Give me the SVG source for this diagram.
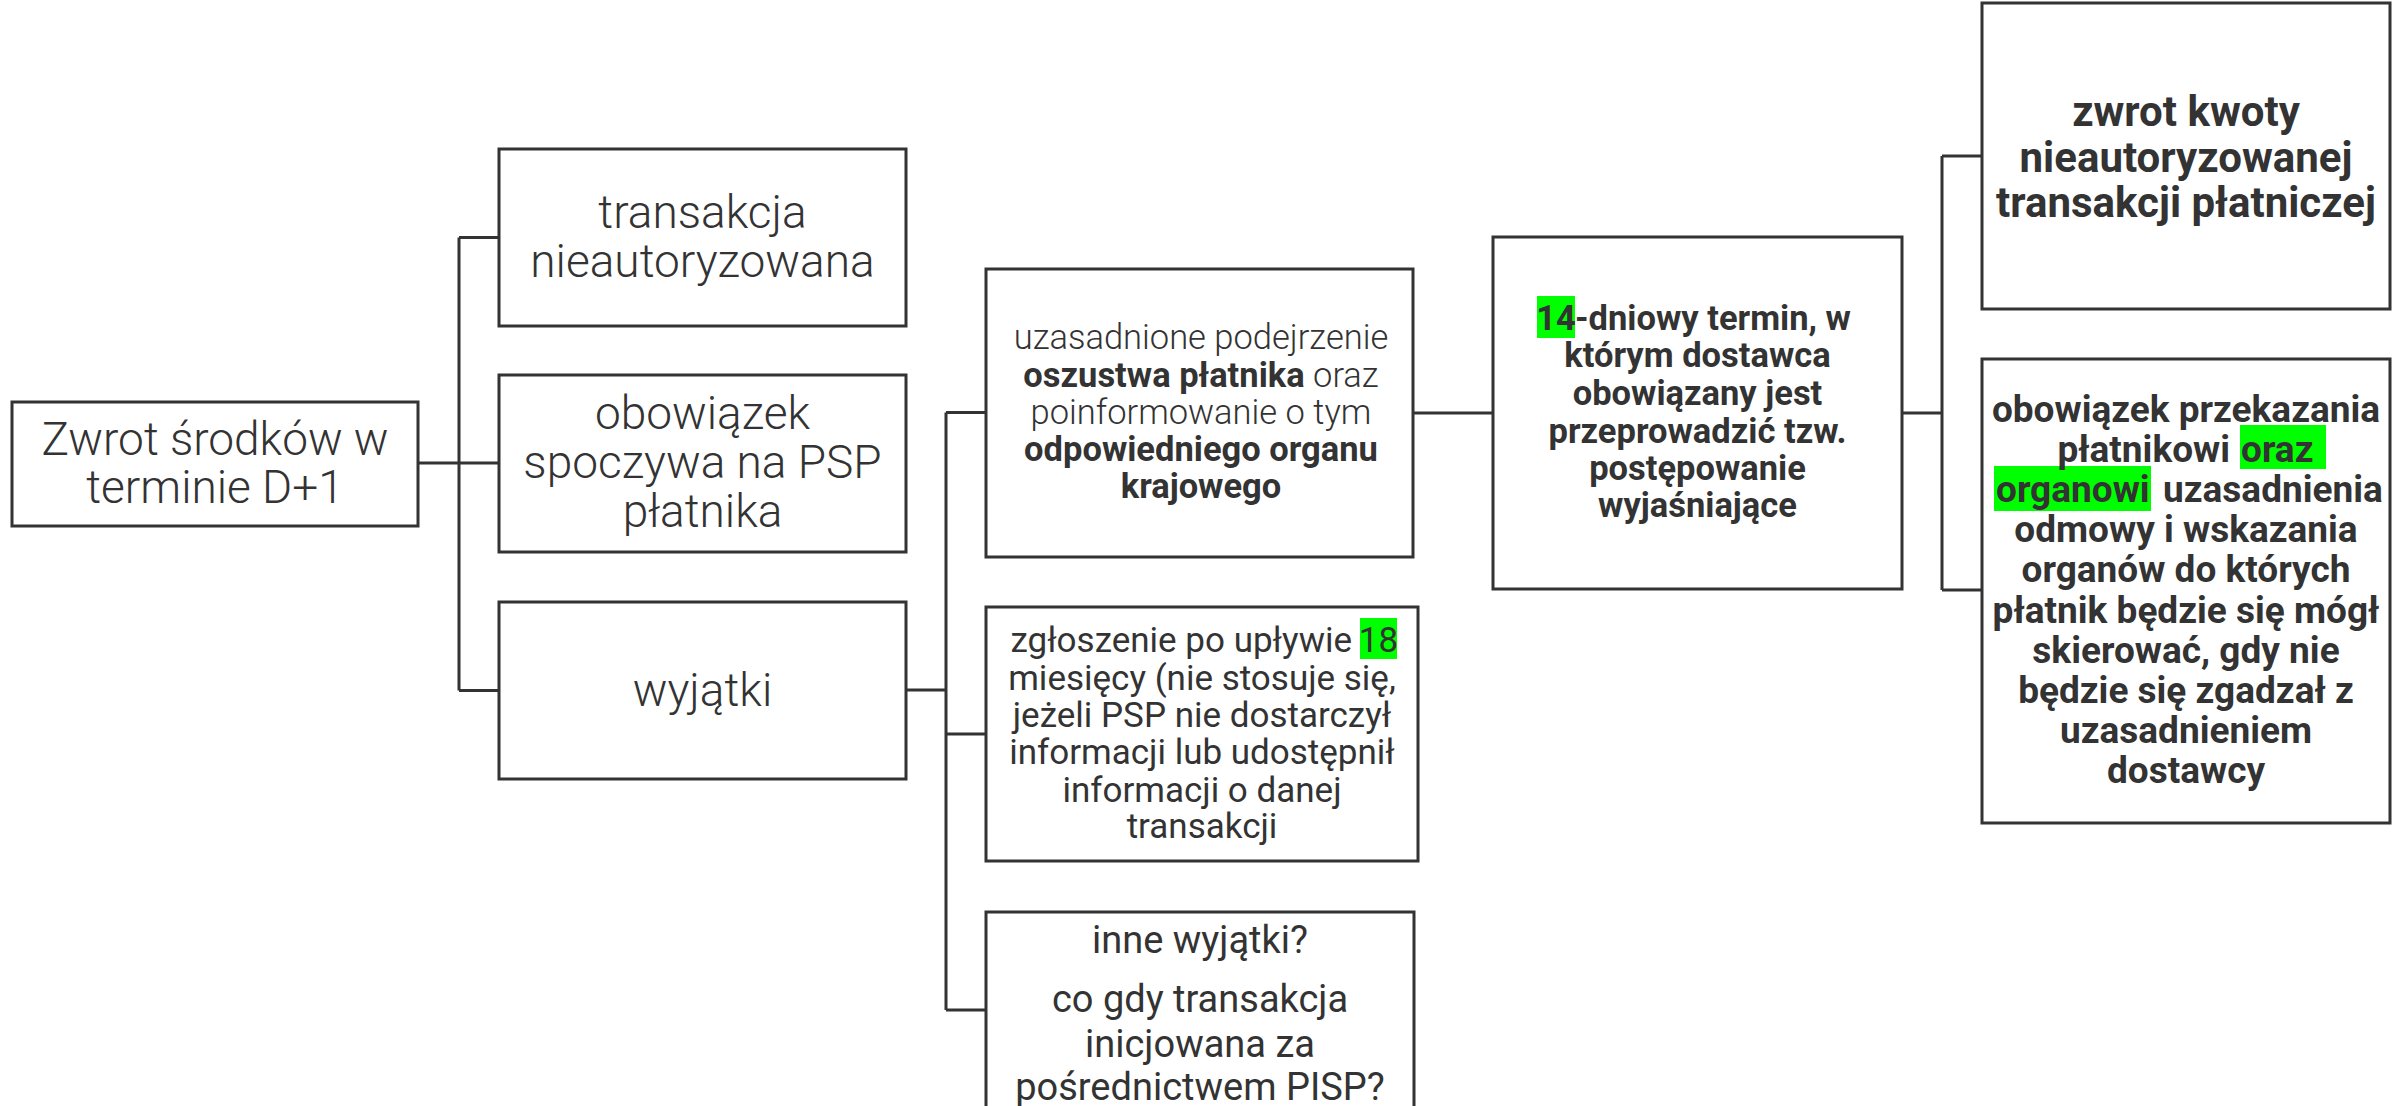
<svg xmlns="http://www.w3.org/2000/svg" width="2408" height="1106" viewBox="0 0 2408 1106">
<style>
.box{fill:#ffffff;stroke:#333333;stroke-width:3}
.conn{fill:none;stroke:#333333;stroke-width:3}
text{font-family:Roboto,"Liberation Sans",sans-serif;fill:#333333;text-anchor:middle}
.l1{font-size:46px;font-weight:300}
.l2{font-size:34.5px;font-weight:300}
.r2{font-size:35px;font-weight:400}
.r3{font-size:38px;font-weight:400}
.b2{font-size:34.5px;font-weight:700}
.b3{font-size:42px;font-weight:700}
.b4{font-size:37px;font-weight:700}
.bold{font-weight:700}
.hl{fill:#00ff00}
.st{text-anchor:start}
.en{text-anchor:end}
</style>
<rect width="2408" height="1106" fill="#ffffff"/>
<g id="connectors">
<path class="conn" d="M418,463 H459 M459,237.5 V690.5 M459,237.5 H499 M459,463 H499 M459,690.5 H499"/>
<path class="conn" d="M906,690 H946 M946,412.5 V1010 M946,412.5 H986 M946,734 H986 M946,1010 H986"/>
<path class="conn" d="M1413,413 H1493"/>
<path class="conn" d="M1902,413 H1942 M1942,156 V590 M1942,156 H1982 M1942,590 H1982"/>
</g>
<g id="root">
<rect class="box" x="12" y="402" width="406" height="124"/>
<text class="l1" x="215" y="455">Zwrot środków w</text>
<text class="l1" x="215" y="503">terminie D+1</text>
</g>
<g id="transakcja">
<rect class="box" x="499" y="149" width="407" height="177"/>
<text class="l1" x="702.5" y="228">transakcja</text>
<text class="l1" x="702.5" y="277">nieautoryzowana</text>
</g>
<g id="obowiazek">
<rect class="box" x="499" y="375" width="407" height="177"/>
<text class="l1" x="702.5" y="429">obowiązek</text>
<text class="l1" x="702.5" y="478">spoczywa na PSP</text>
<text class="l1" x="702.5" y="527">płatnika</text>
</g>
<g id="wyjatki">
<rect class="box" x="499" y="602" width="407" height="177"/>
<text class="l1" x="702.5" y="706">wyjątki</text>
</g>
<g id="podejrzenie">
<rect class="box" x="986" y="269" width="427" height="288"/>
<text class="l2" x="1201" y="349">uzasadnione podejrzenie</text>
<text class="l2" x="1201" y="386.5"><tspan class="bold">oszustwa płatnika</tspan> oraz</text>
<text class="l2" x="1201" y="424">poinformowanie o tym</text>
<text class="l2 bold" x="1201" y="461">odpowiedniego organu</text>
<text class="l2 bold" x="1201" y="498">krajowego</text>
</g>
<g id="zgloszenie">
<rect class="box" x="986" y="607" width="432" height="254"/>
<rect class="hl" x="1360" y="618" width="37" height="41"/>
<text class="r2 en" x="1352" y="652">zgłoszenie po upływie</text>
<text class="r2" x="1378.5" y="652">18</text>
<text class="r2" x="1202" y="690">miesięcy (nie stosuje się,</text>
<text class="r2" x="1202" y="727">jeżeli PSP nie dostarczył</text>
<text class="r2" x="1202" y="764">informacji lub udostępnił</text>
<text class="r2" x="1202" y="802">informacji o danej</text>
<text class="r2" x="1202" y="838">transakcji</text>
</g>
<g id="inne">
<rect class="box" x="986" y="912" width="428" height="220"/>
<text class="r3" x="1200" y="953">inne wyjątki?</text>
<text class="r3" x="1200" y="1012">co gdy transakcja</text>
<text class="r3" x="1200" y="1057">inicjowana za</text>
<text class="r3" x="1200" y="1100">pośrednictwem PISP?</text>
</g>
<g id="termin14">
<rect class="box" x="1493" y="237" width="409" height="352"/>
<rect class="hl" x="1537" y="296" width="38" height="42"/>
<text class="b2" x="1556" y="330">14</text>
<text class="b2 st" x="1575" y="330">-dniowy termin, w</text>
<text class="b2" x="1697.5" y="367">którym dostawca</text>
<text class="b2" x="1697.5" y="405">obowiązany jest</text>
<text class="b2" x="1697.5" y="443">przeprowadzić tzw.</text>
<text class="b2" x="1697.5" y="480">postępowanie</text>
<text class="b2" x="1697.5" y="517">wyjaśniające</text>
</g>
<g id="zwrot">
<rect class="box" x="1982" y="3" width="408" height="306"/>
<text class="b3" x="2186" y="126">zwrot kwoty</text>
<text class="b3" x="2186" y="172">nieautoryzowanej</text>
<text class="b3" x="2186" y="217">transakcji płatniczej</text>
</g>
<g id="uzasadnienie">
<rect class="box" x="1982" y="359" width="408" height="464"/>
<rect class="hl" x="2240" y="425" width="86" height="44"/>
<rect class="hl" x="1994" y="466" width="157" height="45"/>
<text class="b4" x="2186" y="422">obowiązek przekazania</text>
<text class="b4 en" x="2230" y="462">płatnikowi</text>
<text class="b4 st" x="2241" y="462">oraz</text>
<text class="b4 st" x="1996" y="502">organowi</text>
<text class="b4 st" x="2163" y="502">uzasadnienia</text>
<text class="b4" x="2186" y="542">odmowy i wskazania</text>
<text class="b4" x="2186" y="582">organów do których</text>
<text class="b4" x="2186" y="623">płatnik będzie się mógł</text>
<text class="b4" x="2186" y="663">skierować, gdy nie</text>
<text class="b4" x="2186" y="703">będzie się zgadzał z</text>
<text class="b4" x="2186" y="743">uzasadnieniem</text>
<text class="b4" x="2186" y="783">dostawcy</text>
</g>
</svg>
